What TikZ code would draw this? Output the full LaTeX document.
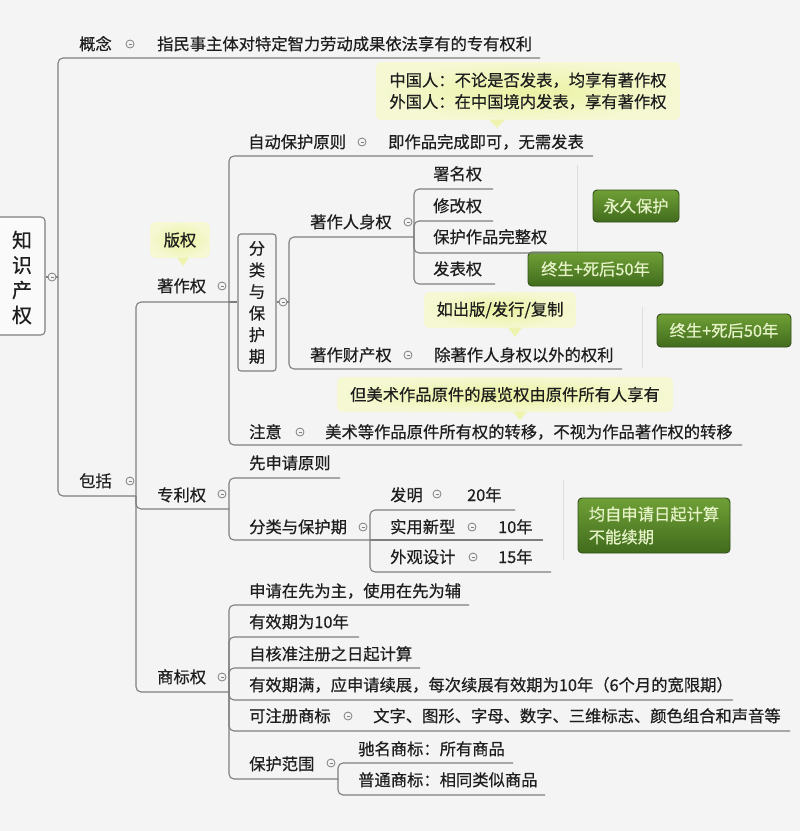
\documentclass[tikz,border=0pt]{standalone}
\usepackage{fontspec}
\setmainfont{Noto Sans CJK SC}[FakeBold=0.5,AutoFakeBold=0.5]
\newfontfamily\heavycjk{Noto Sans CJK SC}[FakeBold=0.5]
\definecolor{bg}{HTML}{F4F4F4}
\definecolor{ink}{HTML}{1E1E1E}
\definecolor{lg}{HTML}{7E7E7E}
\definecolor{yin}{HTML}{EBF2A2}
\definecolor{yout}{HTML}{F5F8D2}
\definecolor{gtop}{HTML}{6F9F36}
\definecolor{gbot}{HTML}{416C1D}
\definecolor{gedge}{HTML}{33501A}
\definecolor{gtext}{HTML}{E6F3C8}
\definecolor{faint}{HTML}{DEDEDE}
\newcommand{\myfs}{\heavycjk\fontsize{16.3pt}{21.6pt}\selectfont}
\begin{document}
\begin{tikzpicture}[x=1pt,y=-1pt,
  lbl/.style={anchor=base west,inner sep=0pt,text=ink,font=\myfs},
  ln/.style={draw=lg,line width=1.1pt,rounded corners=5pt},
  faintln/.style={draw=faint,line width=0.8pt},
  knob/.style={circle,draw=lg,fill=bg,minimum size=8pt,inner sep=0pt,line width=0.8pt,
    path picture={\draw[lg,line width=0.6pt] ([xshift=-1.5pt]path picture bounding box.center) -- ([xshift=1.5pt]path picture bounding box.center);}},
  note/.style={rounded corners=5pt,inner color=yin,outer color=yout,inner sep=0pt,font=\myfs,text=ink},
  tip/.style={fill=yin!70!yout},
  gbox/.style={rounded corners=4pt,top color=gtop,bottom color=gbot,draw=gedge,line width=0.9pt,text=gtext,font=\myfs,inner sep=0pt},
  vbox/.style={draw=lg,line width=1.1pt,rounded corners=3pt,fill=bg,align=center,inner sep=0pt,font=\myfs,text=ink},
  rootbox/.style={draw=lg,line width=1.1pt,rounded corners=4pt,fill=white!50!bg,inner sep=0pt}
]
\useasboundingbox (0,0) rectangle (800,831);
\fill[bg] (0,0) rectangle (800,831);

% faint summary lines
\draw[faintln] (577,165) -- (577,285);
\draw[faintln] (642,307) -- (642,368);
\draw[faintln] (563,480) -- (563,560);

% callouts
\node[note,minimum width=304pt,minimum height=58pt,align=left] (cn) at (528,91) {中国人：不论是否发表，均享有著作权\\外国人：在中国境内发表，享有著作权};
\fill[tip] (489,119.5) -- (505,119.5) -- (497,128) -- cycle;
\node[note,minimum width=60pt,minimum height=36pt] (bq) at (180,240) {版权};
\fill[tip] (177,257.5) -- (189,257.5) -- (183,266) -- cycle;
\node[note,minimum width=152pt,minimum height=36pt] (cbf) at (500,310) {如出版/发行/复制};
\fill[tip] (508,327.5) -- (522,327.5) -- (515,337) -- cycle;
\node[note,minimum width=336pt,minimum height=35pt] (msz) at (505,394.5) {但美术作品原件的展览权由原件所有人享有};
\fill[tip] (513,411.5) -- (527,411.5) -- (520,420) -- cycle;

% green boxes
\node[gbox,minimum width=86pt,minimum height=32pt] (g1) at (636,206) {永久保护};
\node[gbox,minimum width=135pt,minimum height=34pt] (g2) at (595.5,269) {终生+死后50年};
\node[gbox,minimum width=134pt,minimum height=33pt] (g3) at (724,330.5) {终生+死后50年};
\node[gbox,minimum width=152pt,minimum height=55pt,align=left] (g4) at (654,525.5) {均自申请日起计算\\[1.2pt]不能续期};

% root
\node[rootbox,minimum width=51pt,minimum height=118pt] (root) at (19.5,276) {};
\node[font=\heavycjk\fontsize{20pt}{25pt}\selectfont,text=ink,align=center,inner sep=0pt] (roottxt) at (22,277.5) {知\\识\\产\\权};

% vertical box
\node[vbox,minimum width=38pt,minimum height=137pt] (vb) at (257,302.5) {分\\类\\与\\保\\护\\期};

% junctions
\coordinate (j0) at (58,277);
\coordinate (j1) at (136,496);
\coordinate (j2) at (229,302);
\coordinate (j3) at (289,302);
\coordinate (j4) at (414,237);
\coordinate (j5) at (229,509);
\coordinate (j6) at (370,540);
\coordinate (j7) at (229,692);
\coordinate (j8) at (338,779);

% connectors
\draw[ln] (j0 -| root.east) -- (j0);
\draw[ln] (j0) |- (540,58);
\draw[ln] (j0) |- (j1);
\draw[ln] (j1) |- (j2);
\draw[ln] (j1) |- (j5);
\draw[ln] (j1) |- (j7);
\draw[ln] (j2) |- (593,156);
\draw[ln] (j2) -- (j2 -| vb.west);
\draw[ln] (j2) |- (742,445);
\draw[ln] (j3 -| vb.east) -- (j3);
\draw[ln] (j3) |- (j4);
\draw[ln] (j3) |- (622,369);
\draw[ln] (j4) |- (493,189);
\draw[ln] (j4) |- (493,221);
\draw[ln] (j4) |- (560,253);
\draw[ln] (j4) |- (495,284);
\draw[ln] (j5) |- (340,478);
\draw[ln] (j5) |- (j6);
\draw[ln] (j6) |- (515,510);
\draw[ln] (j6) -- (543,540);
\draw[ln] (j6) |- (551,572);
\draw[ln] (j7) |- (469,605);
\draw[ln] (j7) |- (359,637);
\draw[ln] (j7) |- (420,668);
\draw[ln] (j7) |- (733,700);
\draw[ln] (j7) |- (790,731);
\draw[ln] (j7) |- (j8);
\draw[ln] (j8) |- (513,763);
\draw[ln] (j8) |- (545,795);

% knobs
\node[knob] (k0) at (52,277) {};
\node[knob] (k1) at (130,44) {};
\node[knob] (k2) at (130,481) {};
\node[knob] (k3) at (222,286) {};
\node[knob] (k4) at (222,494) {};
\node[knob] (k5) at (222,677) {};
\node[knob] (k6) at (362,142) {};
\node[knob] (k7) at (283,302) {};
\node[knob] (k8) at (300,432) {};
\node[knob] (k9) at (408,222) {};
\node[knob] (k10) at (408,355) {};
\node[knob] (k11) at (363,527) {};
\node[knob] (k12) at (437,494) {};
\node[knob] (k13) at (472,527) {};
\node[knob] (k14) at (473,557) {};
\node[knob] (k15) at (348,716) {};
\node[knob] (k16) at (331,763) {};

% labels
\node[lbl] (gn) at (79,50) {概念};
\node[lbl] (gnd) at (157,50) {指民事主体对特定智力劳动成果依法享有的专有权利};
\node[lbl] (bk) at (79,487) {包括};
\node[lbl] (zzq) at (157,292) {著作权};
\node[lbl] (zlq) at (157,501) {专利权};
\node[lbl] (sbq) at (157,683) {商标权};
\node[lbl] (zdbh) at (248,148) {自动保护原则};
\node[lbl] (zdbhd) at (388,148) {即作品完成即可，无需发表};
\node[lbl] (zy) at (249,438) {注意};
\node[lbl] (zyd) at (325,438) {美术等作品原件所有权的转移，不视为作品著作权的转移};
\node[lbl] (rsq) at (310,228) {著作人身权};
\node[lbl] (smq) at (433,180) {署名权};
\node[lbl] (xgq) at (433,212) {修改权};
\node[lbl] (bhq) at (433,243) {保护作品完整权};
\node[lbl] (fbq) at (433,275) {发表权};
\node[lbl] (ccq) at (310,361) {著作财产权};
\node[lbl] (ccqd) at (434,361) {除著作人身权以外的权利};
\node[lbl] (xsq) at (249,469) {先申请原则};
\node[lbl] (flbh) at (249,533) {分类与保护期};
\node[lbl] (fm) at (390,501) {发明};
\node[lbl] (fmy) at (467,501) {20年};
\node[lbl] (syxx) at (390,533) {实用新型};
\node[lbl] (syxxy) at (498,533) {10年};
\node[lbl] (wgsj) at (390,563) {外观设计};
\node[lbl] (wgsjy) at (498,563) {15年};
\node[lbl] (sb1) at (249,597) {申请在先为主，使用在先为辅};
\node[lbl] (sb2) at (249,628) {有效期为10年};
\node[lbl] (sb3) at (249,660) {自核准注册之日起计算};
\node[lbl] (sb4) at (249,691) {有效期满，应申请续展，每次续展有效期为10年（6个月的宽限期）};
\node[lbl] (sb5) at (249,722) {可注册商标};
\node[lbl] (sb5d) at (373,722) {文字、图形、字母、数字、三维标志、颜色组合和声音等};
\node[lbl] (sb6) at (249,770) {保护范围};
\node[lbl] (cm) at (358,755) {驰名商标：所有商品};
\node[lbl] (pt) at (358,786) {普通商标：相同类似商品};
\end{tikzpicture}
\end{document}
